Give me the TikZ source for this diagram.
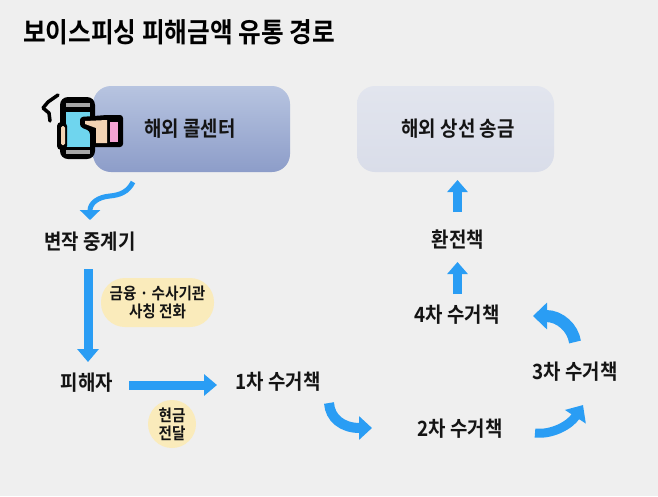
\documentclass[tikz,border=0pt]{standalone}
\usepackage{fontspec}
\setmainfont{Noto Sans CJK KR}[BoldFont={* Bold},FakeStretch=0.9]
\usetikzlibrary{arrows.meta,calc}
\definecolor{bg}{HTML}{EFEFEF}
\definecolor{arr}{HTML}{2A9DF4}
\definecolor{pill}{HTML}{FAEBBB}
\definecolor{btop}{HTML}{B7C4E0}
\definecolor{bbot}{HTML}{8D9DC9}
\definecolor{gtop}{HTML}{E2E5EE}
\definecolor{gbot}{HTML}{D9DDE9}
\definecolor{skin}{HTML}{F3D3B3}
\definecolor{screen}{HTML}{6FD5EE}
\definecolor{cuff}{HTML}{F5A3D3}
\tikzset{
 lbl/.style={font=\fontsize{21}{24}\selectfont\bfseries,inner sep=1pt,text=black!92},
 small/.style={font=\fontsize{16.2}{18}\selectfont\bfseries,align=center,text=black!92,inner sep=0pt},
 sa/.style={arr,line width=9pt,-{Triangle[length=13pt,width=21pt]}},
}
\begin{document}
\begin{tikzpicture}[x=1pt,y=-1pt]
\fill[bg] (0,0) rectangle (658,496);
\useasboundingbox (0,0) rectangle (658,496);
\node[font=\fontsize{27.4}{30}\selectfont\bfseries,inner sep=0pt] (title) at (179,32) {보이스피싱 피해금액 유통 경로};
\node[rounded corners=18pt,minimum width=197pt,minimum height=86pt,top color=btop,bottom color=bbot,inner sep=0pt] (center) at (191.5,129) {};
\node[lbl] (centerlbl) at (190,129) {해외 콜센터};
\node[rounded corners=18pt,minimum width=197pt,minimum height=86pt,top color=gtop,bottom color=gbot,inner sep=0pt] (ship) at (455.5,129) {};
\node[lbl] (shiplbl) at (458,129) {해외 상선 송금};
\node[lbl] (relay) at (90,242) {변작 중계기};
\node[lbl] (victim) at (87,383) {피해자};
\node[lbl] (c1) at (278,382) {1차 수거책};
\node[lbl] (c2) at (460,429) {2차 수거책};
\node[lbl] (c3) at (575,372) {3차 수거책};
\node[lbl] (c4) at (457,315) {4차 수거책};
\node[lbl] (ex) at (458,240) {환전책};
\node[fill=pill,rounded corners=24pt,minimum width=113pt,minimum height=49pt,small] (p1) at (157.5,302.5) {금융 · 수사기관\\사칭 전화};
\node[fill=pill,circle,minimum size=48pt,small] (p2) at (172,424) {현금\\전달};
\draw[sa] ($(relay)+(-2,27)$) -- ($(victim)+(1,-21)$);
\draw[sa] ($(victim)+(42,2)$) -- ($(c1)+(-61,3)$);
\draw[sa,-{Triangle[length=12pt,width=20pt]}] ($(c4)+(0.5,-21)$) -- ($(ex)+(-0.5,22)$);
\draw[sa,-{Triangle[length=12pt,width=20pt]}] ($(ex)+(-0.5,-28)$) -- ($(ship)+(2,51)$);
\draw[arr,line width=5pt,-{Triangle[length=10pt,width=20pt]}] ($(center)+(-58.5,53)$) .. controls (128,192) and (120,195) .. (110,196) .. controls (98,197) and (90,203) .. ($(relay)+(0,-22)$);
\draw[arr,line width=10pt,-{Triangle[length=13pt,width=23pt]}] ($(c1)+(51,21)$) .. controls (330,418) and (342,428) .. ($(c2)+(-88,-1)$);
\draw[arr,line width=9pt,-{Triangle[length=14pt,width=24pt]}] ($(c2)+(75,4)$) .. controls (552,435) and (570,425) .. ($(c3)+(8,33)$);
\draw[arr,line width=12pt,-{Triangle[length=14pt,width=26pt]}] ($(c3)+(0,-30)$) .. controls (573,328) and (560,316) .. ($(c4)+(76,1)$);
% phone icon
\draw[black,line width=3.5pt,line cap=round,line join=round] (58,95) -- (48,102) -- (43,108) -- (49,113) -- (50,121);
\fill[black,rounded corners=8pt] (60,97) rectangle (95,159);
\fill[gray!70] (66,103) rectangle (90,107);
\fill[gray!70] (66,150) rectangle (90,154);
\fill[screen] (66,112) rectangle (90,147);
\fill[black,rounded corners=4pt] (57,122) rectangle (67,150);
\fill[skin,rounded corners=1.5pt] (61,126) rectangle (65,145);
\fill[black,rounded corners=3pt] (80,117) -- (107,115) -- (123,115) -- (123,147) -- (90,147) -- (90,131) -- (80,127) -- cycle;
\fill[skin] (85,121) -- (107,120) -- (107,143) -- (96,143) -- (96,128) -- (85,124) -- cycle;
\fill[cuff] (110,122) rectangle (118,142);
\end{tikzpicture}
\end{document}
